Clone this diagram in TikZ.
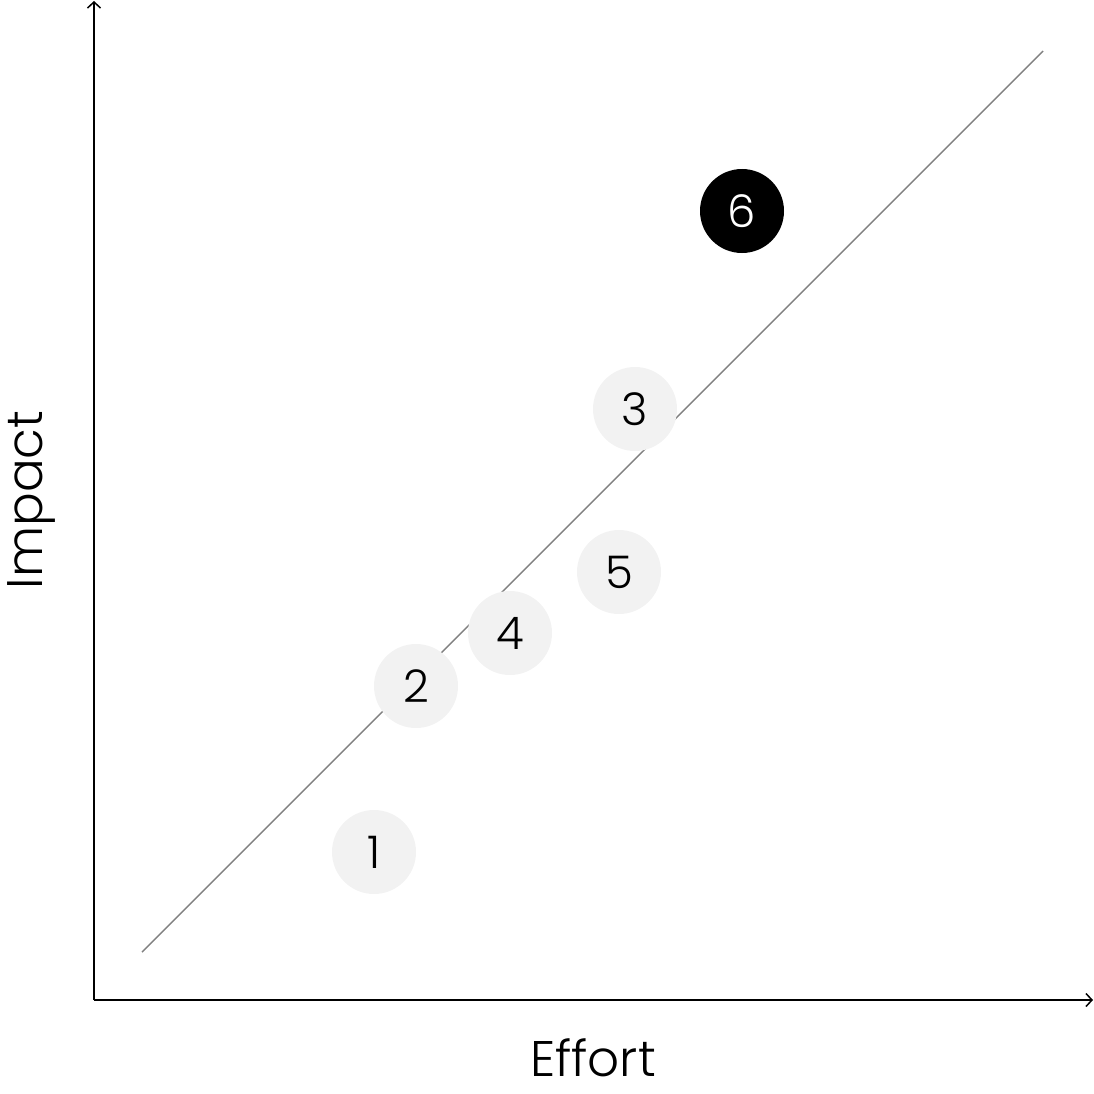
\documentclass[tikz,border=0pt]{standalone}
\usepackage{fontspec}
\setmainfont{Poppins Light}
\usetikzlibrary{arrows.meta}
\definecolor{dotgray}{HTML}{F2F2F2}
\definecolor{linegray}{HTML}{808080}
\begin{document}
\begin{tikzpicture}[x=1pt,y=-1pt,
  axis/.style={line width=1.8pt,-{Straight Barb[length=6pt,width=13pt,line width=1.5pt]}},
  dot/.style={circle,fill=dotgray,minimum size=84pt,inner sep=0pt,font=\fontsize{45}{45}\selectfont},
  hdot/.style={dot,fill=black,text=white},
  lbl/.style={font=\fontsize{50}{50}\selectfont,inner sep=0pt}]
\useasboundingbox (0,0) rectangle (1094,1094);
\coordinate (o) at (94,1000);
\coordinate (ytop) at (94,1);
\coordinate (xend) at (1093,1000);
\coordinate (d1) at (142,952);
\coordinate (d2) at (1043,51);
\draw[axis] (o) -- (ytop);
\draw[axis] (o) -- (xend);
\draw[linegray,line width=1.4pt] (d1) -- (d2);
\node[dot] (n1) at (374,852) {1};
\node[dot] (n2) at (416,686) {2};
\node[dot] (n4) at (510,633) {4};
\node[dot] (n5) at (619,572) {5};
\node[dot] (n3) at (635,409) {3};
\node[hdot] (n6) at (742,211) {6};
\node[lbl] (ex) at (593,1058) {Effort};
\node[lbl,rotate=90] (ey) at (31,500) {Impact};
\end{tikzpicture}
\end{document}
